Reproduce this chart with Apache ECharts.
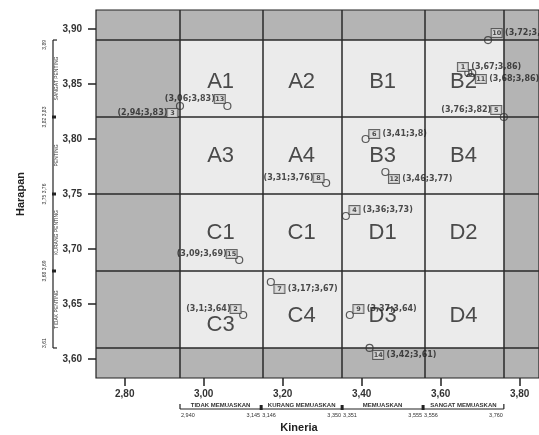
<!DOCTYPE html>
<html>
<head>
<meta charset="utf-8">
<script src="https://cdn.jsdelivr.net/npm/echarts@6/dist/echarts.min.js"></script>
<style>
html,body{margin:0;padding:0;background:#fff}
#main{width:539px;height:435px}
</style>
</head>
<body>
<div id="main"></div>
<script>
// quadrant boundaries
var xBounds = [2.94, 3.1455, 3.3505, 3.5555, 3.76];
var yBounds = [3.61, 3.68, 3.75, 3.82, 3.89];
var xTicks = [2.8, 3.0, 3.2, 3.4, 3.6, 3.8];
var yTicks = [3.6, 3.65, 3.7, 3.75, 3.8, 3.85, 3.9];

// cell names, rows from bottom to top
var cellNames = [
    ['C3', 'C4', 'D3', 'D4'],
    ['C1', 'C1', 'D1', 'D2'],
    ['A3', 'A4', 'B3', 'B4'],
    ['A1', 'A2', 'B1', 'B2']
];

var xBandNames = ['TIDAK MEMUASKAN', 'KURANG MEMUASKAN', 'MEMUASKAN', 'SANGAT MEMUASKAN'];
var xBandLow = ['2,940', '3,146', '3,351', '3,556'];
var xBandHigh = ['3,145', '3,350', '3,555', '3,760'];
var yBandNames = ['TIDAK PENTING', 'KURANG PENTING', 'PENTING', 'SANGAT PENTING'];
var yEdgeLabels = ['3,61', '3,68 3,69', '3,75 3,76', '3,82 3,83', '3,89'];

// the 15 items
var pointIds = [1, 2, 3, 4, 5, 6, 7, 8, 9, 10, 11, 12, 13, 14, 15];
var pointX = [3.67, 3.10, 2.94, 3.36, 3.76, 3.41, 3.17, 3.31, 3.37, 3.72, 3.68, 3.46, 3.06, 3.42, 3.09];
var pointY = [3.86, 3.64, 3.83, 3.73, 3.82, 3.80, 3.67, 3.76, 3.64, 3.89, 3.86, 3.77, 3.83, 3.61, 3.69];

// where each label sits (L = left of the point, R = right), and shift in px
var labelSide = ['R', 'L', 'L', 'R', 'L', 'R', 'R', 'L', 'R', 'R', 'R', 'R', 'L', 'R', 'L'];
var labelDx = [-14, 0, 0, 0, 0, 0, 0, 0, 0, 0, 0, 0, 0, 0, 0];
var labelDy = [-6, -6, 7, -6, -7, -5, 7, -5, -6, -7, 6, 7, -7, 7, -6];

function fmt(v) {
    return String(v).replace('.', ',');
}

var myChart = echarts.init(document.getElementById('main'));

var cellData = [];
for (var r = 0; r < 4; r++) {
    for (var c = 0; c < 4; c++) {
        var dy = r === 0 ? 6 : (r === 3 ? 3 : 0);
        if (cellNames[r][c] === 'C3') dy = 15;
        cellData.push({
            value: [(xBounds[c] + xBounds[c + 1]) / 2, (yBounds[r] + yBounds[r + 1]) / 2],
            name: cellNames[r][c],
            label: {offset: [0, dy]}
        });
    }
}

var pointData = [];
for (var i = 0; i < pointIds.length; i++) {
    var txt = '(' + fmt(pointX[i]) + ';' + fmt(pointY[i]) + ')';
    var left = labelSide[i] === 'L';
    pointData.push({
        value: [pointX[i], pointY[i]],
        name: String(pointIds[i]),
        label: {
            position: left ? 'left' : 'right',
            distance: 0,
            offset: [left ? 1.5 + labelDx[i] : -0.5 + labelDx[i], labelDy[i]],
            formatter: left ? '{t|' + txt + '}{b|' + pointIds[i] + '}' : '{b|' + pointIds[i] + '} {t|' + txt + '}'
        }
    });
}

var option = {
    animation: false,
    backgroundColor: '#fff',
    grid: {
        left: 96, top: 10, right: 0, bottom: 57,
        show: true,
        backgroundColor: '#b4b4b4',
        borderColor: '#222',
        borderWidth: 1.2
    },
    xAxis: {
        type: 'value',
        min: 2.7273,
        max: 3.849,
        axisLine: {show: false},
        splitLine: {show: false},
        axisTick: {show: true, length: 8, customValues: xTicks, lineStyle: {color: '#222', width: 1.5}},
        axisLabel: {
            customValues: xTicks,
            margin: 11,
            color: '#333',
            fontWeight: 'bold',
            fontSize: 10,
            fontFamily: 'Liberation Sans',
            formatter: function (v) { return v.toFixed(2).replace('.', ','); }
        }
    },
    yAxis: {
        type: 'value',
        min: 3.5827,
        max: 3.9173,
        axisLine: {show: false},
        splitLine: {show: false},
        axisTick: {show: true, length: 8, customValues: yTicks, lineStyle: {color: '#222', width: 1.5}},
        axisLabel: {
            customValues: yTicks,
            margin: 14,
            color: '#333',
            fontWeight: 'bold',
            fontSize: 10,
            fontFamily: 'Liberation Sans',
            formatter: function (v) { return v.toFixed(2).replace('.', ','); }
        }
    },
    series: [{
        name: 'cells',
        type: 'scatter',
        symbol: 'circle',
        symbolSize: 1,
        itemStyle: {color: 'rgba(0,0,0,0)'},
        silent: true,
        z: 3,
        data: cellData,
        label: {
            show: true,
            position: 'inside',
            formatter: '{b}',
            color: '#222',
            fontSize: 22,
            fontFamily: 'Liberation Sans'
        },
        markArea: {
            silent: true,
            itemStyle: {color: '#ebebeb'},
            data: [[{coord: [xBounds[0], yBounds[0]]}, {coord: [xBounds[4], yBounds[4]]}]]
        },
        markLine: {
            silent: true,
            symbol: ['none', 'none'],
            label: {show: false},
            lineStyle: {color: '#2a2a2a', width: 1.5, type: 'solid'},
            data: xBounds.map(function (v) { return {xAxis: v}; })
                .concat(yBounds.map(function (v) { return {yAxis: v}; }))
        }
    }, {
        name: 'items',
        type: 'scatter',
        symbol: 'circle',
        symbolSize: 7,
        z: 5,
        itemStyle: {color: 'rgba(255,255,255,0)', borderColor: '#333', borderWidth: 1.2},
        data: pointData,
        label: {
            show: true,
            rich: {
                t: {fontFamily: 'DejaVu Sans', fontWeight: 'bold', fontSize: 8, color: '#222'},
                b: {
                    fontFamily: 'DejaVu Sans', fontWeight: 'bold', fontSize: 6.5, color: '#222',
                    width: 8, height: 8, lineHeight: 8, align: 'center',
                    borderColor: '#444', borderWidth: 1, padding: [0, 1], backgroundColor: '#dcdcdc'
                }
            }
        }
    }]
};
myChart.setOption(option);

// side brackets and axis titles
function px(x, y) {
    return myChart.convertToPixel({gridIndex: 0}, [x, y]);
}
var g = [];
var ink = '#222';
var yTopPx = px(3, yBounds[4])[1], yBotPx = px(3, yBounds[0])[1];
var bx = 53;
g.push({type: 'line', shape: {x1: bx, y1: yTopPx, x2: bx, y2: yBotPx}, style: {stroke: ink, lineWidth: 1.2}});
g.push({type: 'line', shape: {x1: bx, y1: yTopPx, x2: bx + 4, y2: yTopPx}, style: {stroke: ink, lineWidth: 1.2}});
g.push({type: 'line', shape: {x1: bx, y1: yBotPx, x2: bx + 4, y2: yBotPx}, style: {stroke: ink, lineWidth: 1.2}});
for (var k = 0; k < yBounds.length; k++) {
    var yy = px(3, yBounds[k])[1];
    if (k > 0 && k < yBounds.length - 1) {
        g.push({type: 'rect', shape: {x: bx - 1, y: yy - 1.5, width: 4, height: 3}, style: {fill: ink}});
    }
    var al = k === 0 ? 'left' : (k === yBounds.length - 1 ? 'right' : 'center');
    g.push({type: 'text', x: 45, y: yy, rotation: Math.PI / 2,
        style: {text: yEdgeLabels[k], font: '5px "Liberation Sans"', fill: '#333', align: al, verticalAlign: 'middle', textAlign: al, textVerticalAlign: 'middle'}});
}
for (k = 0; k < yBandNames.length; k++) {
    var ym = (px(3, yBounds[k])[1] + px(3, yBounds[k + 1])[1]) / 2;
    g.push({type: 'text', x: 56.5, y: ym, rotation: Math.PI / 2,
        style: {text: yBandNames[k], font: '5px "Liberation Sans"', fill: '#333', align: 'center', verticalAlign: 'middle', textAlign: 'center', textVerticalAlign: 'middle'}});
}

var by = 409;
var xL = px(xBounds[0], 3.7)[0], xR = px(xBounds[4], 3.7)[0];
g.push({type: 'line', shape: {x1: xL, y1: by, x2: xR, y2: by}, style: {stroke: ink, lineWidth: 1.2}});
g.push({type: 'line', shape: {x1: xL, y1: by - 5, x2: xL, y2: by}, style: {stroke: ink, lineWidth: 1.2}});
g.push({type: 'line', shape: {x1: xR, y1: by - 5, x2: xR, y2: by}, style: {stroke: ink, lineWidth: 1.2}});
for (k = 1; k < xBounds.length - 1; k++) {
    var xx = px(xBounds[k], 3.7)[0];
    g.push({type: 'rect', shape: {x: xx - 1.5, y: by - 4, width: 3, height: 5}, style: {fill: ink}});
}
for (k = 0; k < xBandNames.length; k++) {
    var a = px(xBounds[k], 3.7)[0], b = px(xBounds[k + 1], 3.7)[0];
    g.push({type: 'text', x: (a + b) / 2, y: by - 1,
        style: {text: xBandNames[k], font: 'bold 6px "Liberation Sans"', fill: '#333', align: 'center', verticalAlign: 'bottom', textAlign: 'center', textVerticalAlign: 'bottom'}});
    g.push({type: 'text', x: a + 1, y: by + 6.5,
        style: {text: xBandLow[k], font: '5.5px "Liberation Sans"', fill: '#333', align: 'left', verticalAlign: 'middle', textAlign: 'left', textVerticalAlign: 'middle'}});
    g.push({type: 'text', x: b - 1, y: by + 6.5,
        style: {text: xBandHigh[k], font: '5.5px "Liberation Sans"', fill: '#333', align: 'right', verticalAlign: 'middle', textAlign: 'right', textVerticalAlign: 'middle'}});
}

g.push({type: 'text', x: 21, y: 194, rotation: Math.PI / 2,
    style: {text: 'Harapan', font: 'bold 11px "Liberation Sans"', fill: '#222', align: 'center', verticalAlign: 'middle', textAlign: 'center', textVerticalAlign: 'middle'}});
g.push({type: 'text', x: 299, y: 428,
    style: {text: 'Kineria', font: 'bold 11px "Liberation Sans"', fill: '#222', align: 'center', verticalAlign: 'middle', textAlign: 'center', textVerticalAlign: 'middle'}});

myChart.setOption({graphic: g});
</script>
</body>
</html>
